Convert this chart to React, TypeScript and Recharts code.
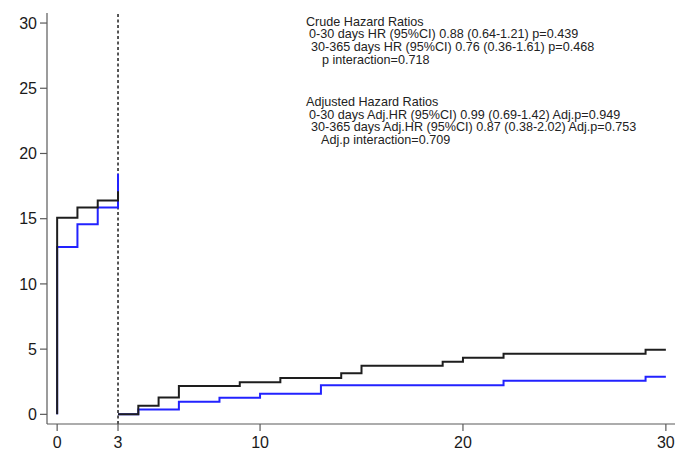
import React from 'react';
import { LineChart, Line, XAxis, YAxis, ReferenceLine } from 'recharts';

// Time (x) and cumulative incidence (y) for each step curve
const earlyTime = [0, 0, 1, 2, 3];
const blackEarly = [0, 15.08, 15.85, 16.4, 17.1];
const blueEarly = [0, 12.83, 14.57, 15.85, 18.45];

const blackLateTime = [3, 4, 5, 6, 9, 11, 14, 15, 19, 20, 22, 29, 30];
const blackLate = [0, 0.66, 1.3, 2.17, 2.47, 2.78, 3.16, 3.73, 4.03, 4.34, 4.64, 4.95, 4.95];

const blueLateTime = [3, 4, 6, 8, 10, 13, 22, 29, 30];
const blueLate = [0, 0.38, 0.97, 1.27, 1.58, 2.24, 2.57, 2.88, 2.88];

const xTicks = [0, 3, 10, 20, 30];
const yTicks = [0, 5, 10, 15, 20, 25, 30];
const cutPoint = 3;

const crudeLines = [
  'Crude Hazard Ratios',
  '0-30 days HR (95%CI) 0.88 (0.64-1.21) p=0.439',
  '30-365 days HR (95%CI) 0.76 (0.36-1.61) p=0.468',
  'p interaction=0.718',
];
const adjustedLines = [
  'Adjusted Hazard Ratios',
  '0-30 days Adj.HR (95%CI) 0.99 (0.69-1.42) Adj.p=0.949',
  '30-365 days Adj.HR (95%CI) 0.87 (0.38-2.02) Adj.p=0.753',
  'Adj.p interaction=0.709',
];

const zip = (xs: number[], ys: number[]) => xs.map((x, i) => ({ x, y: ys[i] }));

const FONT = '"Liberation Sans", Arial, sans-serif';
const BLACK = '#1e1e1e';
const BLUE = '#2222ff';
const AXIS = '#5a5a5a';

const crudeX = [306, 309, 311, 322];
const adjX = [306, 309, 311, 321];
const crudeBase = [25.8, 38.4, 51, 63.6];
const adjBase = [106, 118.6, 131.2, 143.8];

export default function App() {
  return (
    <div style={{ position: 'absolute', left: 0, top: 0, width: 688, height: 450, background: '#fff' }}>
      <LineChart width={688} height={450} margin={{ top: 13, right: 13, bottom: 0, left: 0 }}>
        <XAxis
          type="number"
          dataKey="x"
          domain={[-0.5, 30.45]}
          ticks={xTicks}
          allowDataOverflow
          height={26}
          tickSize={7}
          tickMargin={6}
          stroke={AXIS}
          tick={{ fill: '#1a1a1a', fontSize: 16, fontFamily: FONT }}
          axisLine={{ stroke: AXIS, strokeWidth: 1.2 }}
          tickLine={{ stroke: AXIS, strokeWidth: 1.2 }}
        />
        <YAxis
          type="number"
          dataKey="y"
          domain={[-0.74, 30.77]}
          ticks={yTicks}
          allowDataOverflow
          width={47}
          tickSize={7}
          tickMargin={3}
          stroke={AXIS}
          tick={{ fill: '#1a1a1a', fontSize: 16, fontFamily: FONT }}
          axisLine={{ stroke: AXIS, strokeWidth: 1.2 }}
          tickLine={{ stroke: AXIS, strokeWidth: 1.2 }}
        />
        <ReferenceLine x={cutPoint} stroke={BLACK} strokeWidth={1.5} strokeDasharray="3 2.5" />
        <Line data={zip(earlyTime, blueEarly)} dataKey="y" type="stepAfter" stroke={BLUE} strokeWidth={2} dot={false} isAnimationActive={false} />
        <Line data={zip(blueLateTime, blueLate)} dataKey="y" type="stepAfter" stroke={BLUE} strokeWidth={2} dot={false} isAnimationActive={false} />
        <Line data={zip(earlyTime, blackEarly)} dataKey="y" type="stepAfter" stroke={BLACK} strokeWidth={2} dot={false} isAnimationActive={false} />
        <Line data={zip(blackLateTime, blackLate)} dataKey="y" type="stepAfter" stroke={BLACK} strokeWidth={2} dot={false} isAnimationActive={false} />
      </LineChart>
      <svg width={688} height={450} style={{ position: 'absolute', left: 0, top: 0, pointerEvents: 'none' }}>
        {crudeLines.map((t, i) => (
          <text key={'c' + i} x={crudeX[i]} y={crudeBase[i]} fontSize={12.6} fontFamily={FONT} fill="#222">
            {t}
          </text>
        ))}
        {adjustedLines.map((t, i) => (
          <text key={'a' + i} x={adjX[i]} y={adjBase[i]} fontSize={12.6} fontFamily={FONT} fill="#222">
            {t}
          </text>
        ))}
      </svg>
    </div>
  );
}
